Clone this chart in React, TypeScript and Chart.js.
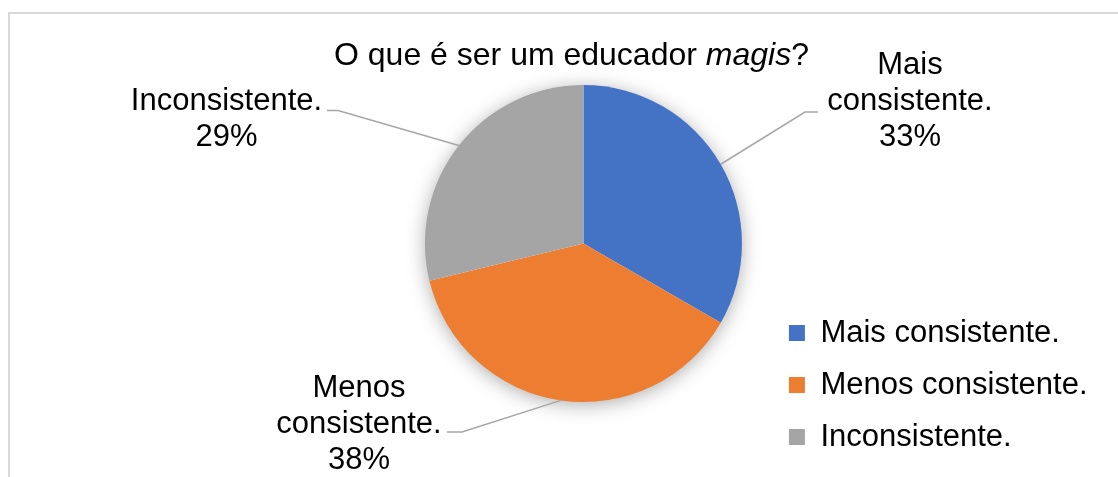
import React, { useEffect, useRef } from "react";
import { Chart, registerables } from "chart.js";

Chart.register(...registerables);

// ---- data ----
const categories = ["Mais consistente.", "Menos consistente.", "Inconsistente."];
const values = [22, 25, 19];
const colors = ["#4472C4", "#ED7D31", "#A5A5A5"];
const titleParts = ["O que é ser um educador ", "magis", "?"];
const labelLines = [["Mais", "consistente."], ["Menos", "consistente."], ["Inconsistente."]];

// ---- label layout (positions only) ----
const labelLayout = [
  { cx: 910, y: 65, elbow: [805, 112], end: [818, 112] },
  { cx: 359, y: 388, elbow: [462, 432], end: [447, 432] },
  { cx: 226.5, y: 101, elbow: [338, 110.5], end: [327, 110.5] },
];

const FONT = "'Liberation Sans', Arial, sans-serif";

const shadowPlugin = {
  id: "pieShadow",
  beforeDatasetsDraw(chart: any) {
    const arc = chart.getDatasetMeta(0).data[0];
    if (!arc) return;
    const { x, y, outerRadius } = arc.getProps(["x", "y", "outerRadius"], true);
    const ctx = chart.ctx;
    ctx.save();
    ctx.shadowColor = "rgba(0,0,0,0.35)";
    ctx.shadowBlur = 20;
    ctx.shadowOffsetX = 0;
    ctx.shadowOffsetY = 3;
    ctx.beginPath();
    ctx.arc(x, y, outerRadius - 1, 0, Math.PI * 2);
    ctx.fillStyle = "#ffffff";
    ctx.fill();
    ctx.restore();
  },
};

const labelsPlugin = {
  id: "pieLabels",
  afterDatasetsDraw(chart: any) {
    const ctx = chart.ctx;
    const meta = chart.getDatasetMeta(0);
    const data = chart.data.datasets[0].data as number[];
    const total = data.reduce((a, b) => a + b, 0);
    meta.data.forEach((arc: any, i: number) => {
      const { x, y, startAngle, endAngle, outerRadius } = arc.getProps(
        ["x", "y", "startAngle", "endAngle", "outerRadius"],
        true
      );
      const mid = (startAngle + endAngle) / 2;
      const px = x + Math.cos(mid) * outerRadius;
      const py = y + Math.sin(mid) * outerRadius;
      const lay = labelLayout[i];
      ctx.save();
      ctx.strokeStyle = "#A6A6A6";
      ctx.lineWidth = 1.5;
      ctx.beginPath();
      ctx.moveTo(px, py);
      ctx.lineTo(lay.elbow[0], lay.elbow[1]);
      ctx.lineTo(lay.end[0], lay.end[1]);
      ctx.stroke();
      const lines = [...labelLines[i], Math.round((data[i] / total) * 100) + "%"];
      ctx.fillStyle = "#000000";
      ctx.font = `31px ${FONT}`;
      ctx.textAlign = "center";
      ctx.textBaseline = "middle";
      lines.forEach((t, k) => ctx.fillText(t, lay.cx, lay.y + k * 36));
      ctx.restore();
    });
  },
};

const titlePlugin = {
  id: "customTitle",
  afterDraw(chart: any) {
    const ctx = chart.ctx;
    ctx.save();
    const fonts = [`32px ${FONT}`, `italic 32px ${FONT}`, `32px ${FONT}`];
    const widths = titleParts.map((t, i) => {
      ctx.font = fonts[i];
      return ctx.measureText(t).width;
    });
    const total = widths.reduce((a, b) => a + b, 0);
    let x = 571.5 - total / 2;
    ctx.fillStyle = "#000000";
    ctx.textAlign = "left";
    ctx.textBaseline = "middle";
    titleParts.forEach((t, i) => {
      ctx.font = fonts[i];
      ctx.fillText(t, x, 56);
      x += widths[i];
    });
    ctx.restore();
  },
};

export default function App() {
  const ref = useRef<HTMLCanvasElement>(null);
  useEffect(() => {
    if (!ref.current) return;
    const chart = new Chart(ref.current, {
      type: "pie",
      data: {
        labels: categories,
        datasets: [
          {
            data: values,
            backgroundColor: colors,
            borderWidth: 0,
            radius: 158.5,
          } as any,
        ],
      },
      options: {
        responsive: false,
        animation: false,
        layout: { padding: { left: 399, right: 20.5, top: 13.5, bottom: 3.5 } },
        plugins: {
          title: { display: false },
          tooltip: { enabled: false },
          legend: {
            position: "right",
            align: "end",
            labels: {
              boxWidth: 16,
              boxHeight: 16,
              padding: 21,
              color: "#000000",
              font: { family: FONT, size: 31 },
            },
          },
        },
      },
      plugins: [shadowPlugin, labelsPlugin, titlePlugin],
    });
    return () => chart.destroy();
  }, []);
  return (
    <div style={{ position: "fixed", left: 0, top: 0, width: 1118, height: 477, background: "#fff", overflow: "hidden" }}>
      <div
        style={{
          position: "absolute",
          left: 8,
          top: 12,
          width: 1200,
          height: 600,
          borderTop: "2px solid #d9d9d9",
          borderLeft: "2px solid #d9d9d9",
        }}
      />
      <canvas ref={ref} width={1118} height={477} style={{ position: "absolute", left: 0, top: 0 }} />
    </div>
  );
}
